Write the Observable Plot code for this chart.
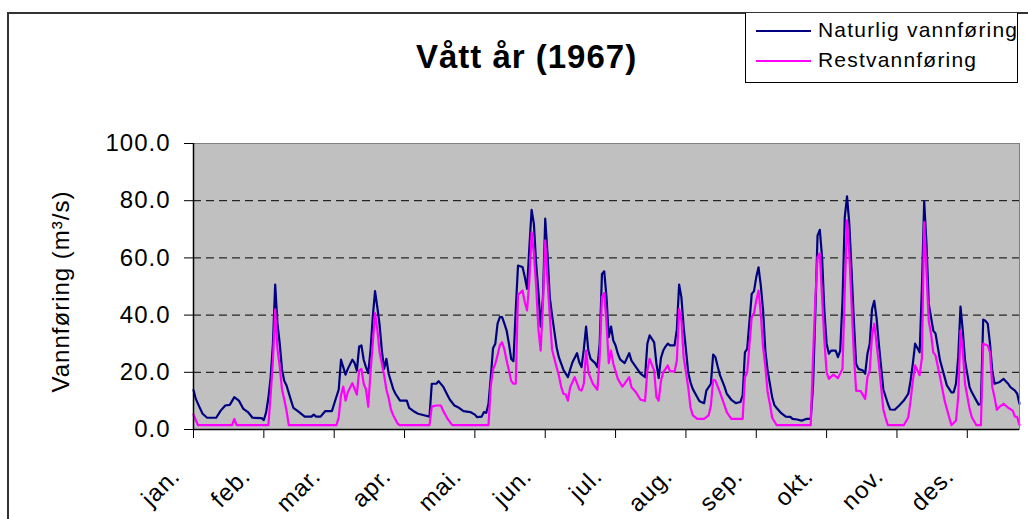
<!DOCTYPE html>
<html>
<head>
<meta charset="utf-8">
<script src="https://cdn.jsdelivr.net/npm/d3@7"></script>
<script src="https://cdn.jsdelivr.net/npm/@observablehq/plot@0.6"></script>
<style>
  body { margin: 0; background: #fff; overflow: hidden; }
  #wrap { position: relative; width: 1028px; height: 519px; font-family: "Liberation Sans", Arial, sans-serif; }
  #border { position: absolute; left: 7px; top: 12px; width: 1100px; height: 600px; border-left: 2px solid #333; border-top: 2px solid #333; pointer-events: none; }
  #chart svg text { letter-spacing: 1px; }
  #legend { position: absolute; left: 745px; top: 13px; width: 273px; height: 70px; box-sizing: border-box; border: 1px solid #000; border-top: none; background: #fff; }
  .sw { position: absolute; left: 10px; width: 55px; height: 2px; }
  .lt { position: absolute; left: 72px; font-size: 21px; line-height: 21px; letter-spacing: 1.2px; color: #000; white-space: nowrap; }
</style>
</head>
<body>
<div id="wrap">
  <div id="chart"></div>
  <div id="border"></div>
  <div id="legend"></div>
</div>
<script>
const title = "Vått år (1967)";
const yLabel = "Vannføring (m³/s)";
const seriesNames = ["Naturlig vannføring", "Restvannføring"];
const seriesColors = ["#000080", "#ff00ff"];
const monthLabels = ["jan.", "feb.", "mar.", "apr.", "mai.", "jun.", "jul.", "aug.", "sep.", "okt.", "nov.", "des."];
const monthTicks = [0, 31, 62, 93, 124, 155, 186, 217, 248, 279, 310, 341];
const yTicks = [0, 20, 40, 60, 80, 100];

// Naturlig vannføring: day index (0 = 1 jan) and value (m3/s)
const natDag = [0,1,3,4,6,10,12,14,16,18,20,22,24,26,30,31,32,33,34,35,36,37,38,39,40,41,43,44,46,49,52,53,54,56,58,61,62,64,65,67,68,70,71,72,73,74,75,76,77,78,79,80,81,82,83,84,85,86,88,89,91,94,95,97,99,102,104,105,107,108,110,112,113,115,117,119,122,124,125,127,128,129,130,131,132,133,134,135,136,137,138,139,140,141,142,143,145,146,147,148,149,150,151,152,153,154,155,156,157,158,160,161,163,165,166,167,169,170,171,172,173,174,175,177,178,179,180,181,182,183,184,185,186,187,188,190,192,193,195,197,199,200,201,203,204,205,206,207,208,209,210,212,213,214,215,216,217,218,219,220,222,223,225,226,228,229,230,231,232,233,234,235,237,239,241,242,243,244,246,247,248,249,250,251,252,253,255,256,257,259,261,263,264,266,268,270,272,273,274,275,276,277,278,279,280,281,283,284,285,286,287,288,289,290,291,292,293,295,296,297,298,299,300,301,302,303,304,306,307,309,311,313,315,316,317,318,320,321,322,323,324,325,326,327,329,331,332,334,335,336,337,338,339,340,342,343,345,346,347,348,349,350,351,352,353,355,357,359,360,362,363,364];
const natVerdi = [13.8,10.7,7.2,5.5,4.1,4.1,6.6,8.4,8.6,11.3,10.1,7.2,6.1,4.1,4.0,3.3,6.0,11.0,18.3,30.0,50.7,37.0,30.0,21.0,17.0,15.4,10.1,7.6,6.4,4.5,4.5,5.2,4.5,4.5,6.4,6.4,9.0,14.0,24.4,19.2,21.2,24.4,23.2,20.6,29.0,29.4,24.4,21.8,19.7,27.6,39.3,48.4,42.8,36.7,27.6,21.2,24.7,19.5,14.2,12.5,10.1,10.1,7.6,6.4,5.5,4.9,4.5,16.0,16.0,16.9,15.0,11.9,10.4,8.4,7.6,6.4,6.1,5.2,4.3,4.5,6.1,5.8,9.0,18.3,28.4,30.0,37.0,39.3,39.3,37.0,34.6,30.0,24.7,23.9,41.6,57.3,56.8,53.3,49.2,63.7,76.8,71.9,57.9,48.0,36.0,46.3,73.7,61.4,46.3,40.0,28.8,25.3,20.9,18.3,21.0,23.5,26.7,23.5,21.8,28.0,36.0,27.6,24.7,23.2,21.8,30.0,54.4,55.3,46.3,32.3,36.0,31.1,29.4,26.5,24.5,23.2,26.7,24.1,21.8,19.5,18.3,30.0,32.9,30.5,23.0,18.0,25.0,27.6,29.0,30.0,29.4,29.4,35.0,50.7,46.3,35.8,28.0,20.0,16.5,14.2,11.3,9.9,9.2,13.6,16.0,26.2,25.3,22.0,19.0,17.0,15.0,12.5,10.4,9.2,9.6,11.9,27.0,28.2,47.4,48.4,53.3,56.7,50.3,41.6,27.6,20.6,11.3,8.5,7.5,5.7,4.5,4.4,3.7,3.5,3.1,3.7,3.7,15.0,40.0,67.8,69.8,60.2,41.6,30.0,26.5,27.6,27.6,25.3,27.6,45.0,74.2,81.5,71.9,55.6,38.1,23.0,21.2,20.6,19.5,26.5,30.0,42.0,45.0,39.0,30.0,22.0,14.0,9.0,7.0,6.9,8.4,10.1,12.5,17.1,23.0,30.0,27.0,49.8,79.8,65.0,44.0,39.3,34.6,33.5,24.1,18.3,15.4,13.0,13.0,16.0,25.3,43.0,34.6,24.1,14.8,13.0,10.1,8.7,8.9,38.4,38.0,37.0,30.0,20.6,16.0,16.5,17.7,16.0,14.8,13.6,12.5,9.0];

// Restvannføring
const restDag = [0,2,17,18,19,33,34,35,36,37,38,39,40,41,42,63,64,65,66,67,68,70,72,73,74,75,76,77,78,79,80,81,82,84,85,86,87,88,90,91,104,105,107,109,110,112,114,130,131,132,133,134,135,136,137,138,139,140,141,142,143,145,146,147,148,149,150,151,152,153,154,155,156,157,158,160,161,162,163,164,165,166,168,170,171,172,173,174,176,178,179,180,181,182,183,184,185,187,189,190,192,193,195,197,199,200,201,203,204,205,206,207,208,209,210,212,213,214,215,216,218,219,220,222,225,227,228,229,230,232,234,235,237,242,243,244,246,247,248,249,250,251,252,253,254,255,257,272,273,274,275,276,277,278,279,280,282,284,286,287,288,289,290,291,292,294,296,297,298,299,300,301,302,303,304,305,306,313,315,316,317,318,320,321,322,323,324,325,326,327,329,331,333,334,336,337,338,339,340,342,343,345,347,348,350,351,352,353,354,355,357,359,361,362,363,364];
const restVerdi = [5.2,1.5,1.5,3.7,1.5,1.5,12,24,42,28,22,14,10.5,6.5,1.5,1.5,4.3,12,15,10.1,13,16.2,12.2,20.6,21.2,16,14,8,20,30,40.7,35,27,19,14,11,7,5,2,1.5,1.5,8,8.4,8.4,6.6,3.7,1.5,1.5,15,21,23,26,29.5,30.5,28,24,20.6,17,16,16,47,48.6,44.5,41.6,52.1,69,61.4,50,35,27.6,43.9,66.1,52.1,40,28,21.8,18.9,15,12.5,12.3,10.1,14.8,18.3,14,13.6,16,27.6,20,16,13.9,25.3,46.3,47.7,37,23.2,27.6,23,17.7,15,16,18.3,14.8,13,10.4,10,20.6,24.7,20.6,11.3,10.1,17,20,21.2,22.4,20.3,20.3,24.1,42.2,38.1,25.3,14.8,7.8,5,3.7,3.7,4.9,8.4,17.4,17.1,13,8.4,6.1,3.7,3.7,18.3,20,39.3,40.7,45.1,48.6,40.4,28.8,22,13,9,4.1,1.5,1.5,25,45,60.2,61.6,46.3,31.1,20,17.7,19.2,18,21.2,48.6,73.1,61.4,43.9,26.5,13.6,13.4,10.7,18.3,20.6,33,37,30,23,15,7,4,1.5,1.5,4.3,10.1,17.1,22.4,19,25,72.5,55,38,33.5,27,25.9,18.3,10.1,4.3,1.5,3.1,11.3,34.6,27.6,16,7.2,4.3,1.5,1.5,30,29.4,27,14.8,11.3,6.9,7.8,9,7.6,6.6,4.5,4.4,1.5];

const nat = natDag.map((d, i) => ({dag: d, verdi: natVerdi[i]}));
const rest = restDag.map((d, i) => ({dag: d, verdi: restVerdi[i]}));

const chart = Plot.plot({
  width: 1028,
  height: 519,
  marginLeft: 193,
  marginRight: 9,
  marginTop: 143,
  marginBottom: 90,
  style: {fontFamily: '"Liberation Sans", Arial, sans-serif', background: "transparent", color: "#000"},
  x: {domain: [0, 364]},
  y: {domain: [0, 100]},
  marks: [
    Plot.frame({fill: "#c0c0c0"}),
    Plot.ruleY(yTicks.filter(d => d > 0 && d < 100), {stroke: "#000", strokeWidth: 1, strokeDasharray: "8,5"}),
    Plot.line(nat, {x: "dag", y: "verdi", stroke: seriesColors[0], strokeWidth: 2.2, curve: "linear"}),
    Plot.line(rest, {x: "dag", y: "verdi", stroke: seriesColors[1], strokeWidth: 2.2, curve: "linear"}),
    Plot.frame({stroke: "#808080"}),
    Plot.ruleX([0], {stroke: "#000", strokeWidth: 1.5}),
    Plot.ruleY([0], {stroke: "#000", strokeWidth: 1.5}),
    Plot.axisY({ticks: yTicks, tickSize: 9, tickPadding: 14, tickFormat: d => d.toFixed(1), fontSize: 24, label: null}),
    Plot.axisX({ticks: monthTicks, tickSize: 9, tickFormat: () => "", label: null}),
    Plot.text(monthTicks, {x: d => d, text: (d, i) => monthLabels[i], frameAnchor: "bottom", rotate: -45, textAnchor: "end", lineAnchor: "bottom", dx: -12, dy: 48, fontSize: 24}),
    Plot.text([title], {text: d => d, frameAnchor: "top", dx: -80, dy: -76, lineAnchor: "bottom", fontSize: 33, fontWeight: "bold"}),
    Plot.text([yLabel], {text: d => d, frameAnchor: "left", rotate: -90, dx: -125, dy: 5, lineAnchor: "bottom", textAnchor: "middle", fontSize: 24})
  ]
});
document.getElementById("chart").appendChild(chart);

// Legend
const legend = document.getElementById("legend");
seriesNames.forEach((name, i) => {
  const sw = document.createElement("div");
  sw.className = "sw";
  sw.style.top = (17 + i * 30) + "px";
  sw.style.background = seriesColors[i];
  legend.appendChild(sw);
  const lt = document.createElement("div");
  lt.className = "lt";
  lt.style.top = (6 + i * 30) + "px";
  lt.textContent = name;
  legend.appendChild(lt);
});
</script>
</body>
</html>
